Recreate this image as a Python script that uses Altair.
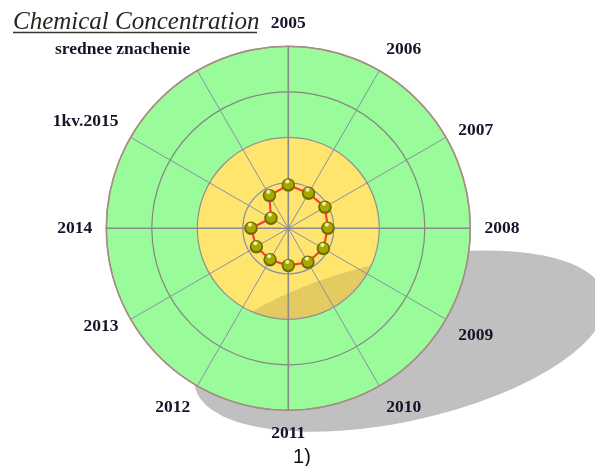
import altair as alt
import pandas as pd
import numpy as np
import math

# ---- data ----
categories = ["2005", "2006", "2007", "2008", "2009", "2010", "2011",
              "2012", "2013", "2014", "1kv.2015", "srednee znachenie"]
values = [0.95, 0.89, 0.93, 0.87, 0.89, 0.86, 0.82, 0.80, 0.81, 0.82, 0.44, 0.83]
ring_levels = [1, 2, 3, 4]
title_text = "Chemical Concentration"
caption_text = "1)"

# ---- layout ----
W, H = 587, 458
CX, CY = 280.3, 220.3      # polar centre (px inside plot area)
U = 45.5                   # px per value unit
RMAX = 4
LABEL_R = 4.31
N = len(categories)

xs = alt.Scale(domain=[-CX / U, (W - CX) / U], nice=False, zero=False)
ys = alt.Scale(domain=[-(H - CY) / U, CY / U], nice=False, zero=False)

def X(f):
    return alt.X(f, type="quantitative", scale=xs, axis=None)

def Y(f):
    return alt.Y(f, type="quantitative", scale=ys, axis=None)

df = pd.DataFrame({"cat": categories, "value": values, "idx": list(range(N))})
rings = pd.DataFrame({"level": ring_levels})
centre = pd.DataFrame({"x": [0.0], "y": [0.0]})

# label alignment groups (derived from the angle of each category)
def al(i):
    s = math.sin(2 * math.pi * i / N)
    return "left" if s > 0.01 else ("right" if s < -0.01 else "center")
def bl(i):
    a = 360.0 * i / N
    if a >= 299 or a <= 31:
        return "bottom"
    if 119 <= a <= 211:
        return "top"
    return "middle"
df["al"] = [al(i) for i in df["idx"]]
df["bl"] = [bl(i) for i in df["idx"]]

base = alt.Chart(df).transform_calculate(
    ang="datum.idx * 2 * PI / %d" % N
).transform_calculate(
    px="datum.value * sin(datum.ang)",
    py="datum.value * cos(datum.ang)",
    sx=f"{RMAX} * sin(datum.ang)",
    sy=f"{RMAX} * cos(datum.ang)",
    lx=f"{LABEL_R} * sin(datum.ang)",
    ly=f"{LABEL_R} * cos(datum.ang)",
    zero="0",
)

# ---- decorative drop shadow: ellipse fitted to the traced outline (plot px) ----
outline_x = [245, 302, 359, 465, 515, 549, 572, 592, 592, 542, 462, 402, 302, 229, 195, 189]
outline_y = [304, 279, 257, 240, 244, 252, 265, 287, 322, 367, 395, 410, 424, 415, 399, 382]
ox = np.array(outline_x, float)
oy = np.array(outline_y, float)
M = np.column_stack([ox * oy, oy * oy, ox, oy, np.ones_like(ox)])
Bc, Cc, Dc, Ec, Fc = np.linalg.lstsq(M, -ox * ox, rcond=None)[0]
Ac = 1.0
x0, y0 = np.linalg.solve([[2 * Ac, Bc], [Bc, 2 * Cc]], [-Dc, -Ec])
Fp = Fc + (Dc * x0 + Ec * y0) / 2.0
lam, vec = np.linalg.eigh([[Ac, Bc / 2], [Bc / 2, Cc]])
semi = np.sqrt(-Fp / lam)          # semi-axes for each eigenvector
imaj = int(np.argmax(semi))
SH_A = float(semi[imaj])
SH_Bpx = float(semi[1 - imaj])
vx, vy = vec[:, imaj]
SH_ANGLE = math.degrees(math.atan2(vy, vx)) % 180.0
SH_X, SH_Y = (x0 - CX) / U, (CY - y0) / U
SH_B = SH_Bpx / SH_A

k = 0.5523
kb = k * SH_B
ell = (f"M -1 0 C -1 {-kb:.4f} {-k} {-SH_B:.4f} 0 {-SH_B:.4f} "
       f"C {k} {-SH_B:.4f} 1 {-kb:.4f} 1 0 "
       f"C 1 {kb:.4f} {k} {SH_B:.4f} 0 {SH_B:.4f} "
       f"C {-k} {SH_B:.4f} -1 {kb:.4f} -1 0 Z")
shadow_df = pd.DataFrame({"x": [SH_X], "y": [SH_Y]})
ell_size = (2 * SH_A) ** 2

shadow = alt.Chart(shadow_df).mark_point(
    shape=ell, filled=True, fill="#d8d8d8", strokeWidth=0, opacity=1,
    size=ell_size, angle=SH_ANGLE
).encode(x=X("x"), y=Y("y"))

yellow = alt.Chart(centre).mark_circle(
    color="#ffe46e", opacity=1, size=(2 * 2 * U) ** 2
).encode(x=X("x"), y=Y("y"))

shade = alt.Chart(shadow_df).mark_point(
    shape=ell, filled=True, fill="#e3e3e3", strokeWidth=0, opacity=1,
    size=ell_size, angle=SH_ANGLE, blend="multiply"
).encode(x=X("x"), y=Y("y"))

green = alt.Chart(centre).mark_point(
    filled=False, stroke="#99fb99", strokeWidth=2 * U, opacity=1,
    size=(2 * 3 * U) ** 2
).encode(x=X("x"), y=Y("y"))

ring_base = alt.Chart(rings).transform_calculate(
    x="0", y="0", sz=f"pow(2 * datum.level * {U}, 2)"
)
ring_colors = alt.Color("level:O", scale=alt.Scale(
    domain=[1, 2, 3, 4], range=["#8890aa", "#8f8f8f", "#858585", "#a88c86"]), legend=None)
ring_marks = ring_base.mark_point(filled=False, opacity=1, strokeWidth=1.2).encode(
    x=X("x"), y=Y("y"), size=alt.Size("sz:Q", scale=None), stroke=ring_colors
)
outer_ring = ring_base.transform_filter("datum.level == 4").mark_point(
    filled=False, opacity=1, strokeWidth=1.6, stroke="#a88c86").encode(
    x=X("x"), y=Y("y"), size=alt.Size("sz:Q", scale=None))

spokes = base.transform_filter("datum.idx % 3 != 0").mark_rule(
    color="#8a90a8", strokeWidth=1).encode(
    x=X("zero"), y=Y("zero"), x2="sx:Q", y2="sy:Q")
axes_spokes = base.transform_filter("datum.idx % 3 == 0").mark_rule(
    color="#8a8a8a", strokeWidth=1.6).encode(
    x=X("zero"), y=Y("zero"), x2="sx:Q", y2="sy:Q")

line = base.mark_line(color="#ff3b3b", strokeWidth=2.2, interpolate="linear-closed").encode(
    x=X("px"), y=Y("py"), order="idx:Q")

dots = base.mark_circle(color="#6e6e00", opacity=1, size=180).encode(x=X("px"), y=Y("py"))
dots_mid = base.mark_circle(color="#a8a800", opacity=1, size=100, yOffset=-0.5).encode(
    x=X("px"), y=Y("py"))
dots_hi = base.mark_circle(color="#f4f4b8", opacity=0.95, size=16, xOffset=-1, yOffset=-3.5).encode(
    x=X("px"), y=Y("py"))

label_layers = []
for a in ["left", "right", "center"]:
    for b in ["top", "bottom", "middle"]:
        sub = df[(df["al"] == a) & (df["bl"] == b)]
        if len(sub) == 0:
            continue
        label_layers.append(
            base.transform_filter(f"datum.al == '{a}' && datum.bl == '{b}'").mark_text(
                align=a, baseline=b, font="Liberation Serif", fontSize=17.5,
                fontWeight="bold", color="#14142a"
            ).encode(x=X("lx"), y=Y("ly"), text="cat:N")
        )

title_df = pd.DataFrame({"t": [title_text]})
title = alt.Chart(title_df).mark_text(
    align="left", baseline="alphabetic", font="Liberation Serif", fontSize=25,
    fontStyle="italic", color="#2a2520"
).encode(x=alt.value(5), y=alt.value(21), text="t:N")
underline = alt.Chart(title_df).mark_rule(color="#3a3530", strokeWidth=1.3).encode(
    x=alt.value(5), x2=alt.value(249), y=alt.value(24.5))

cap_df = pd.DataFrame({"t": [caption_text]})
caption = alt.Chart(cap_df).mark_text(
    align="center", baseline="alphabetic", font="Liberation Sans", fontSize=20,
    color="#111111"
).encode(x=alt.value(294), y=alt.value(455), text="t:N")

chart = alt.layer(
    shadow, yellow, shade, green, ring_marks, outer_ring, spokes, axes_spokes,
    line, dots, dots_mid, dots_hi, *label_layers, title, underline, caption
).properties(
    width=W, height=H, padding=0, autosize=alt.AutoSizeParams(type="none")
).configure_view(stroke=None)

chart.save("out.html", embed_options={"renderer": "svg", "actions": False})
